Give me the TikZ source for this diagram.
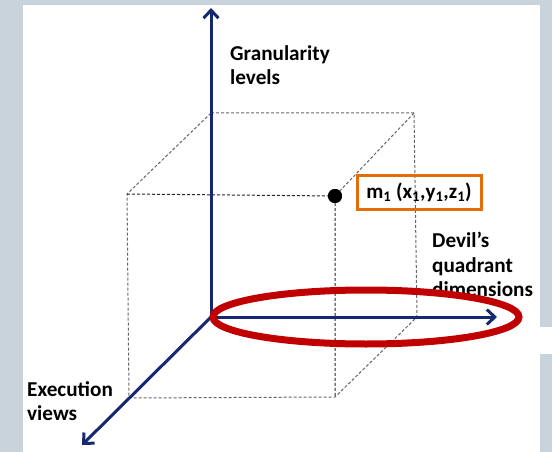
\documentclass[tikz,border=0pt]{standalone}
\usepackage{fontspec}
\setmainfont{Carlito}
\usepackage{tikz}
\usetikzlibrary{arrows.meta,positioning}
\definecolor{axisblue}{RGB}{22,40,112}
\definecolor{ringred}{RGB}{192,0,0}
\definecolor{boxorange}{RGB}{228,108,10}
\definecolor{bggray}{RGB}{200,211,219}

\begin{document}
\begin{tikzpicture}[x=1pt, y=-1pt,
        axis/.style={draw=axisblue, line width=3pt, -{Straight Barb[length=8pt,width=15pt]}},
        cubeedge/.style={draw=black!60, dash pattern=on 3pt off 2pt, line width=1pt},
        axislabel/.style={align=left, anchor=north west, inner sep=0pt, font=\bfseries\fontsize{21.2}{24.5}\selectfont}
      ]
      \fill[bggray] (0,0) rectangle (552,452);
      \fill[white] (23,5) rectangle (540,452);
      \fill[white] (540,327) rectangle (552,354);
      \useasboundingbox (0,0) rectangle (552,452);

      \coordinate (O) at (211,317);
      \coordinate (ytip) at (211,8);
      \coordinate (xtip) at (497,317);
      \coordinate (ztip) at (82,445);
      \coordinate (btl) at (211,113);
      \coordinate (btr) at (414,113);
      \coordinate (bbr) at (417,317);
      \coordinate (ftl) at (127,194);
      \coordinate (fbl) at (129,398);
      \coordinate (fbr) at (335,397);
      \node[circle, fill=black, inner sep=0pt, minimum size=14pt] (m1) at (335,196) {};

      \draw[cubeedge] (btl) -- (btr) -- (bbr) -- (fbr) -- (fbl) -- (ftl) -- (btl);
      \draw[cubeedge] (btr) -- (m1.center);
      \draw[cubeedge, draw=black!85] (ftl) -- (m1.center) -- (fbr);

      \draw[axis] (O) -- (ytip);
      \draw[axis] (O) -- (xtip);
      \draw[axis] (O) -- (ztip);

      \node[circle, fill=black, inner sep=0pt, minimum size=14pt] at (m1) {};
      \node[draw=boxorange, line width=3pt, minimum width=124pt, minimum height=34pt, inner sep=0pt,
        font=\bfseries\fontsize{21}{24.5}\selectfont] (coords) at (419,192)
        {m\textsubscript{1} (x\textsubscript{1},y\textsubscript{1},z\textsubscript{1})};

      \node[axislabel] (gran) at (230,45) {Granularity\\levels};
      \node[axislabel] (devil) at (432,232) {Devil’s\\quadrant\\dimensions};
      \node[axislabel] (exec) at (27,381) {Execution\\views};

      \draw[ringred, line width=7pt] (366,317) ellipse [x radius=153, y radius=27];
    \end{tikzpicture}
\end{document}
